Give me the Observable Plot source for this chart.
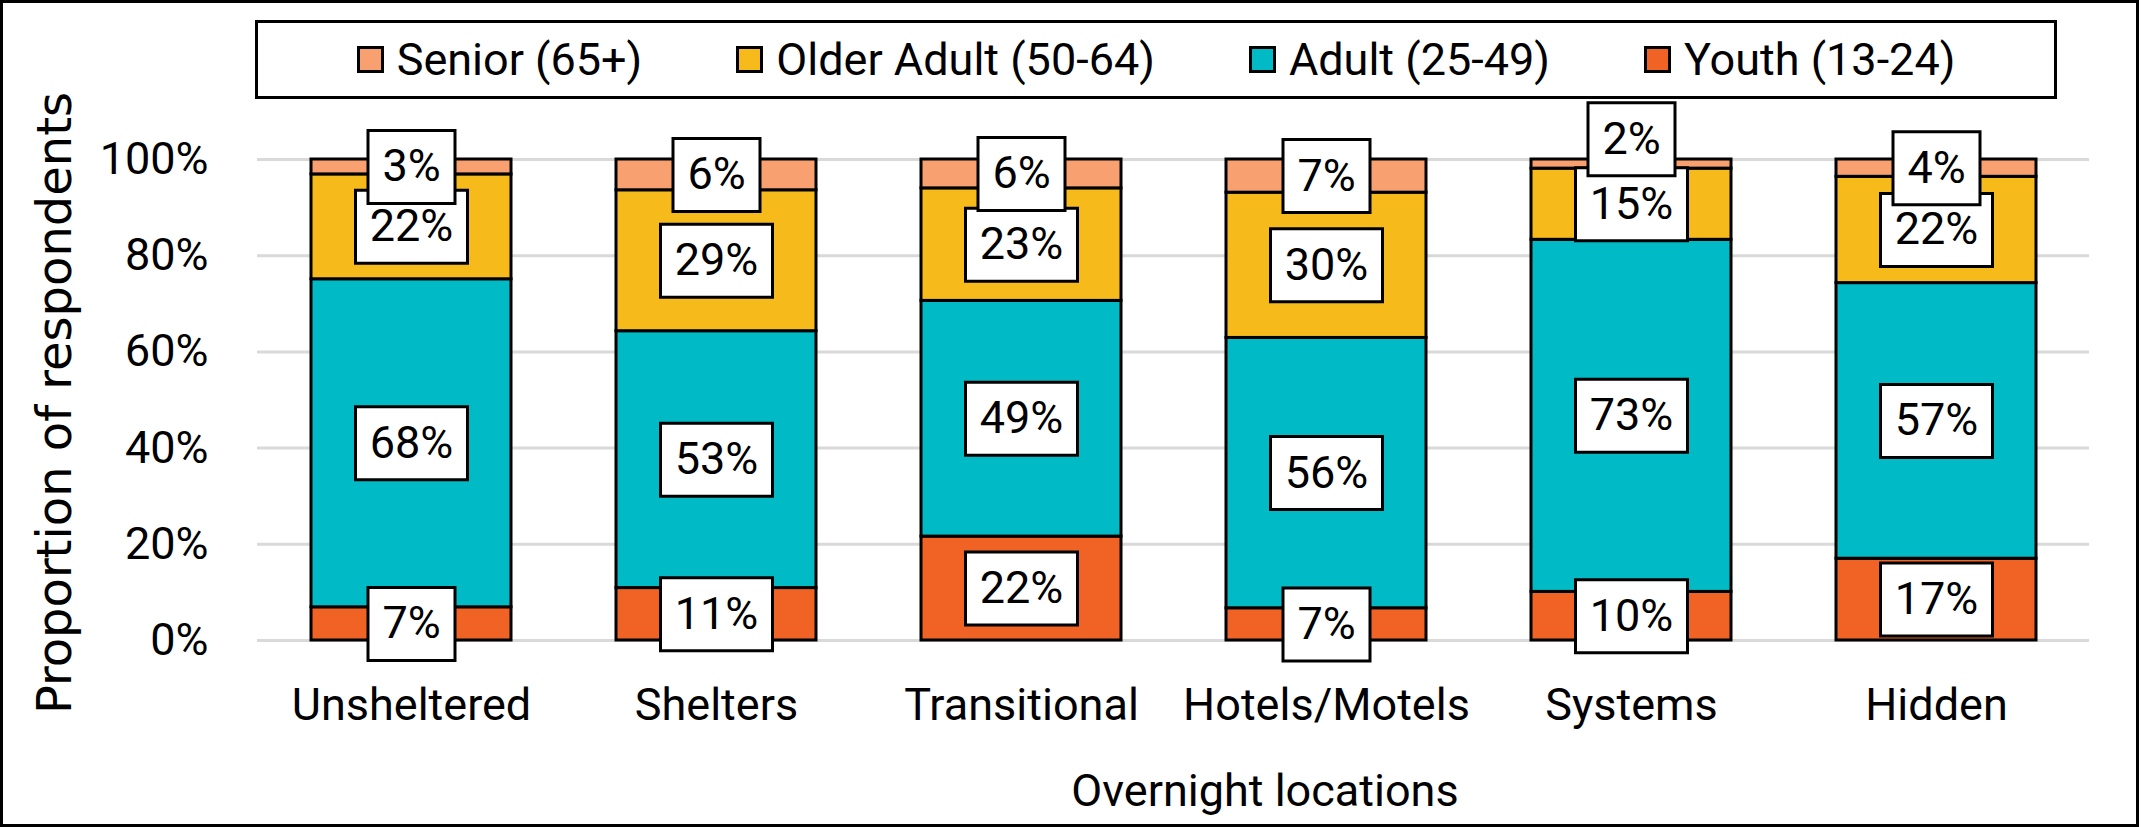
<!DOCTYPE html>
<html>
<head>
<meta charset="utf-8">
<script src="https://cdn.jsdelivr.net/npm/d3@7"></script>
<script src="https://cdn.jsdelivr.net/npm/@observablehq/plot@0.6"></script>
<style>
  body { margin: 0; background: #fff; }
  #wrap { position: relative; width: 2147px; height: 827px; font-family: Roboto, sans-serif; color: #000; }
  #wrap svg { position: absolute; left: 0; top: 0; }
  #frame { position: absolute; left: 0; top: 0; width: 2139px; height: 827px; box-sizing: border-box; border: 3px solid #000; pointer-events: none; z-index: 5; }
  #legend { position: absolute; left: 255px; top: 20px; width: 1802px; height: 79px; box-sizing: border-box; border: 3px solid #000; background: #fff;
            display: flex; justify-content: center; align-items: center; gap: 94px; font-size: 45px; line-height: 1; z-index: 3; }
  .item { display: flex; align-items: center; gap: 13px; white-space: nowrap; }
  .sw { width: 27px; height: 27px; box-sizing: border-box; border: 3px solid #000; }
  #xtitle { position: absolute; left: 1265px; top: 768px; transform: translateX(-50%); font-size: 45px; line-height: 1; white-space: nowrap; z-index: 3; }
  #ytitle { position: absolute; left: 54px; top: 403px; width: 800px; height: 48px; margin-left: -400px; margin-top: -24px; transform: rotate(-90deg);
            text-align: center; font-family: "DejaVu Sans", sans-serif; font-size: 48px; line-height: 48px; white-space: nowrap; z-index: 3; }
</style>
</head>
<body>
<div id="wrap">
  <div id="legend"></div>
  <div id="ytitle">Proportion of respondents</div>
  <div id="xtitle">Overnight locations</div>
  <div id="frame"></div>
</div>
<script>
// ---- data ----
const locations = ["Unsheltered", "Shelters", "Transitional", "Hotels/Motels", "Systems", "Hidden"];
const ageGroups = ["Youth (13-24)", "Adult (25-49)", "Older Adult (50-64)", "Senior (65+)"];
const youth      = [6.9, 10.9, 21.6, 6.7, 10.1, 17.0];
const adult      = [68.2, 53.4, 49.0, 56.2, 73.2, 57.3];
const olderAdult = [21.8, 29.3, 23.4, 30.2, 14.8, 22.1];
const senior     = [3.1, 6.4, 6.0, 6.9, 1.9, 3.6];
const yTicks = [0, 20, 40, 60, 80, 100];
const colors = ["#F06325", "#00BBC6", "#F6BA1A", "#F9A070"];

const series = [youth, adult, olderAdult, senior];

// long-format rows for stacked bars
const rows = [];
locations.forEach((loc, i) => {
  ageGroups.forEach((g, j) => rows.push({location: loc, group: g, value: series[j][i]}));
});

// label rows: centred in each segment, nudged up when crowding the label below
const labels = [];
locations.forEach((loc, i) => {
  let base = 0, prevMid = -Infinity;
  series.forEach((s, j) => {
    const v = s[i];
    let mid = base + v / 2;
    if (mid - prevMid < 10) mid = prevMid + 13.5;
    labels.push({location: loc, group: ageGroups[j], mid, text: Math.round(v) + "%"});
    prevMid = mid;
    base += v;
  });
});

// rectangle "symbol" whose width comes from the r channel
const boxSymbol = {
  draw(context, size) {
    const w = Math.sqrt(size / Math.PI), h = 73;
    context.moveTo(-w / 2, -h / 2);
    context.lineTo(w / 2, -h / 2);
    context.lineTo(w / 2, h / 2);
    context.lineTo(-w / 2, h / 2);
    context.closePath();
  }
};

const chart = Plot.plot({
  width: 2139,
  height: 827,
  marginLeft: 257,
  marginRight: 50,
  marginTop: 159,
  marginBottom: 187,
  style: {fontFamily: "Roboto, sans-serif", fontSize: "45px", color: "#000", background: "transparent", overflow: "visible"},
  x: {domain: locations, paddingInner: 0.345, paddingOuter: 0.1725, label: null},
  y: {domain: [0, 100], label: null},
  color: {domain: ageGroups, range: colors},
  r: {type: "identity"},
  marks: [
    Plot.gridY(yTicks, {stroke: "#D9D9D9", strokeOpacity: 1, strokeWidth: 3}),
    Plot.axisY({ticks: yTicks, tickFormat: d => d + "%", tickSize: 0, tickPadding: 49, label: null}),
    Plot.axisX({tickSize: 0, tickPadding: 48, label: null}),
    Plot.barY(rows, Plot.stackY({x: "location", y: "value", z: "group", fill: "group", stroke: "#000", strokeWidth: 3})),
    Plot.dot(labels, {x: "location", y: "mid", r: d => d.text.length === 2 ? 87 : 112, symbol: boxSymbol,
                      fill: "#fff", stroke: "#000", strokeWidth: 3, sort: null}),
    Plot.text(labels, {x: "location", y: "mid", text: "text", fill: "#000", fontSize: 45})
  ]
});
document.getElementById("wrap").prepend(chart);

// legend (reverse stacking order, as in the reference)
const legend = document.getElementById("legend");
ageGroups.map((g, j) => ({g, c: colors[j]})).reverse().forEach(({g, c}) => {
  const item = document.createElement("div");
  item.className = "item";
  const sw = document.createElement("div");
  sw.className = "sw";
  sw.style.background = c;
  const t = document.createElement("span");
  t.textContent = g;
  item.append(sw, t);
  legend.append(item);
});
</script>
</body>
</html>
